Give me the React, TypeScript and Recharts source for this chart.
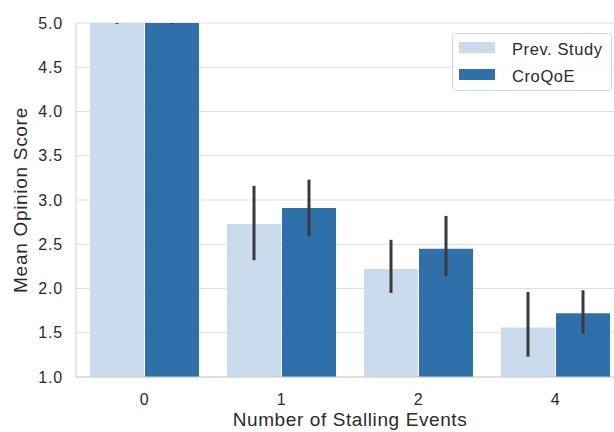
import React from 'react';
import { BarChart, Bar, XAxis, YAxis, CartesianGrid, ErrorBar } from 'recharts';

const categories = ['0', '1', '2', '4'];
const seriesNames = ['Prev. Study', 'CroQoE'];
const prevStudy = [5.0, 2.73, 2.22, 1.56];
const croqoe = [5.0, 2.91, 2.45, 1.72];
const prevLow = [4.99, 2.32, 1.95, 1.23];
const prevHigh = [5.0, 3.16, 2.55, 1.96];
const croLow = [4.99, 2.59, 2.14, 1.49];
const croHigh = [5.0, 3.23, 2.82, 1.98];
const yTicks = [1.0, 1.5, 2.0, 2.5, 3.0, 3.5, 4.0, 4.5, 5.0];

const COLORS = ['#c9dbec', '#3070aa'];
const FONT = '"Liberation Sans", Arial, sans-serif';
const TEXT = '#2a2a2a';

const data = categories.map((c, i) => ({
  cat: c,
  prev: prevStudy[i],
  cro: croqoe[i],
  prevErr: [prevStudy[i] - prevLow[i], prevHigh[i] - prevStudy[i]],
  croErr: [croqoe[i] - croLow[i], croHigh[i] - croqoe[i]],
}));

const LegendOverlay = () => (
  <svg width={614} height={432} style={{ position: 'absolute', left: 0, top: 0, pointerEvents: 'none' }}>
    <rect x={452.5} y={33.5} width={159} height={57} rx={3} ry={3} fill="rgba(255,255,255,0.85)" stroke="#d4d4d4" />
    {seriesNames.map((n, i) => (
      <g key={n}>
        <rect x={459} y={42 + i * 27} width={36} height={11} fill={COLORS[i]} />
        <text x={512} y={54.5 + i * 27} style={{ fontFamily: FONT, fontSize: 16.5, letterSpacing: 0.6, fill: TEXT }}>
          {n}
        </text>
      </g>
    ))}
  </svg>
);

const YLabel = (props: any) => {
  const vb = props.viewBox || {};
  const cy = vb.y + vb.height / 2;
  const x = 20;
  return (
    <text x={x} y={cy} transform={`rotate(-90, ${x}, ${cy})`} textAnchor="middle" dominantBaseline="central"
      style={{ fontFamily: FONT, fontSize: 19, letterSpacing: 0.7, fill: TEXT }}>
      Mean Opinion Score
    </text>
  );
};

const XLabel = (props: any) => {
  const vb = props.viewBox || {};
  const cx = vb.x + vb.width / 2;
  return (
    <text x={cx} y={426} textAnchor="middle" style={{ fontFamily: FONT, fontSize: 19, letterSpacing: 0.6, fill: TEXT }}>
      Number of Stalling Events
    </text>
  );
};

export default function App() {
  return (
    <div style={{ position: 'absolute', left: 0, top: 0, width: 614, height: 432, overflow: 'hidden', background: '#fff' }}>
      <BarChart
        width={650}
        height={432}
        data={data}
        margin={{ top: 23, right: 26, bottom: 0, left: 0 }}
        barCategoryGap={14}
        barGap={1}
      >
        <CartesianGrid horizontal vertical={false} stroke="#dedede" strokeWidth={1} />
        <XAxis
          dataKey="cat"
          height={55}
          tickLine={false}
          tickSize={0}
          axisLine={{ stroke: '#cfcfcf' }}
          tickMargin={17}
          tick={{ fontFamily: FONT, fontSize: 16, letterSpacing: 0.6, fill: TEXT }}
          label={<XLabel />}
        />
        <YAxis
          width={76}
          domain={[1, 5]}
          ticks={yTicks}
          allowDataOverflow
          tickLine={false}
          tickSize={0}
          tickMargin={13}
          axisLine={{ stroke: '#cfcfcf' }}
          tickFormatter={(v: number) => v.toFixed(1)}
          tick={{ fontFamily: FONT, fontSize: 16, letterSpacing: 0.8, fill: TEXT }}
          label={<YLabel />}
        />
        <Bar dataKey="prev" name={seriesNames[0]} fill={COLORS[0]} isAnimationActive={false}>
          <ErrorBar dataKey="prevErr" direction="y" width={0} strokeWidth={3} stroke="#3a3a3a" />
        </Bar>
        <Bar dataKey="cro" name={seriesNames[1]} fill={COLORS[1]} isAnimationActive={false}>
          <ErrorBar dataKey="croErr" direction="y" width={0} strokeWidth={3} stroke="#3a3a3a" />
        </Bar>
      </BarChart>
      <LegendOverlay />
    </div>
  );
}
